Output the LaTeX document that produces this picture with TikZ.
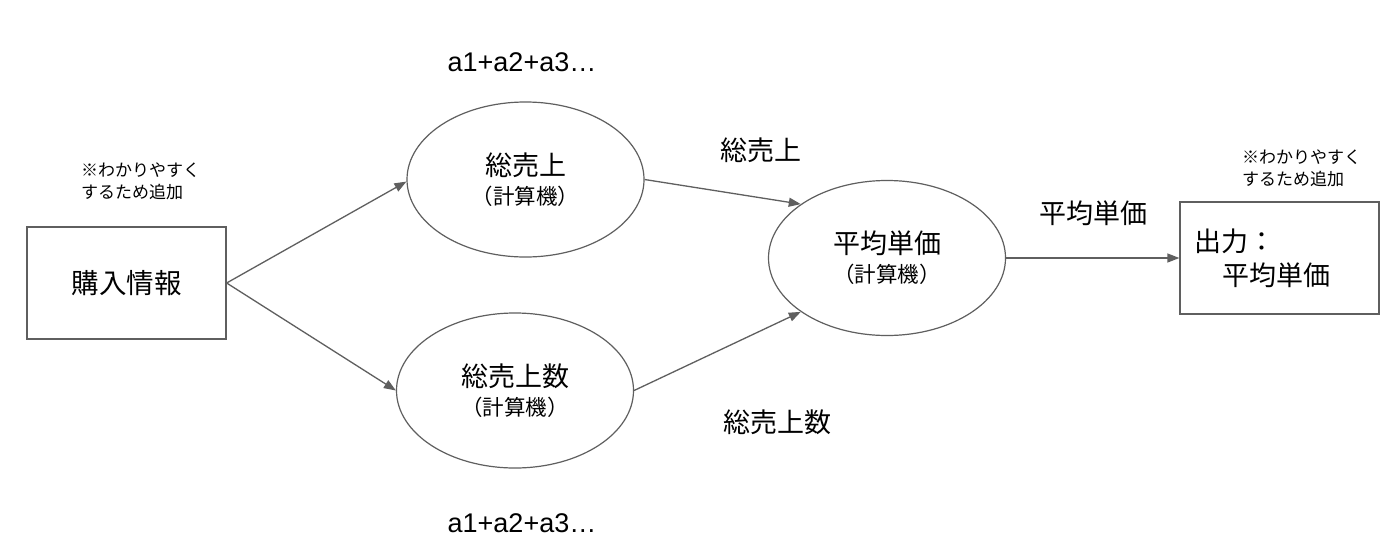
\documentclass[tikz,border=0pt]{standalone}
\usepackage{fontspec}
\setmainfont{Noto Sans CJK JP}
\newfontfamily\latinfont{Liberation Sans}
\usetikzlibrary{shapes.geometric,arrows.meta}
\definecolor{linegray}{HTML}{5F5F5F}
\tikzset{
  conn/.style={draw=linegray, line width=1.3pt},
  arr/.style={conn, -{Triangle[length=12pt,width=9pt]}},
  calcnode/.style={ellipse, draw=linegray, line width=1.2pt, minimum width=237pt, minimum height=155pt, inner sep=0pt, align=center, font=\fontsize{21.5}{29}\selectfont},
  boxnode/.style={rectangle, draw=linegray, line width=1.3pt, minimum width=199pt, minimum height=112pt, inner sep=0pt},
  note/.style={align=left, inner sep=0pt, font=\fontsize{17}{22}\selectfont},
  biglabel/.style={inner sep=0pt, font=\fontsize{27}{30}\selectfont},
  sumlabel/.style={inner sep=0pt, font=\latinfont\fontsize{27}{30}\selectfont}
}
\begin{document}
\begin{tikzpicture}[x=1pt,y=-1pt]
\useasboundingbox[fill=white] (0,0) rectangle (1400,544);
% nodes
\node[boxnode, font=\fontsize{27.5}{30}\selectfont] (src) at (126.5,283) {購入情報};
\node[note, anchor=west] (srcnote) at (81,181) {※わかりやすく\\するため追加};
\node[calcnode] (e1) at (525.5,179.5) {{\fontsize{27}{28}\selectfont 総売上}\\（計算機）};
\node[calcnode] (e2) at (515,390.5) {{\fontsize{27}{28}\selectfont 総売上数}\\（計算機）};
\node[calcnode] (e3) at (887,258) {{\fontsize{27}{28}\selectfont 平均単価}\\（計算機）};
\node[boxnode, text width=170pt, align=left, font=\fontsize{27}{34}\selectfont] (out) at (1279.5,258) {出力：\\\hspace*{28pt}平均単価};
\node[note, anchor=west] (outnote) at (1242,168) {※わかりやすく\\するため追加};
% labels
\node[sumlabel] (sumtop) at (522,62) {a1+a2+a3…};
\node[sumlabel] (sumbot) at (522,523) {a1+a2+a3…};
\node[biglabel] (l1) at (761,150) {総売上};
\node[biglabel] (l2) at (777.5,422) {総売上数};
\node[biglabel] (l3) at (1093,213) {平均単価};
% connectors
\draw[arr] (src.east) -- (e1.181);
\draw[arr] (src.east) -- (e2.west);
\draw[arr] (e1.east) -- (e3.148);
\draw[arr] (e2.east) -- (e3.212);
\draw[arr] (e3.east) -- (out.west);
\end{tikzpicture}
\end{document}
